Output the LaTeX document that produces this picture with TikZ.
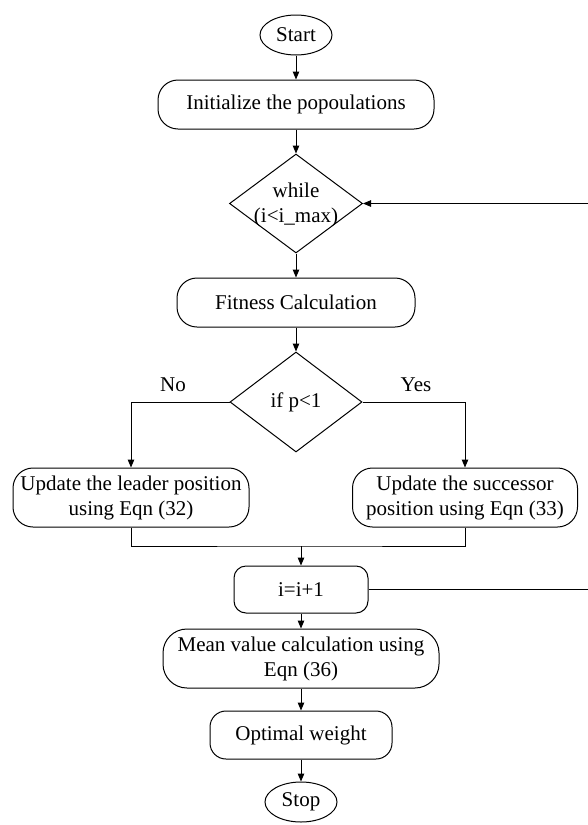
\documentclass[tikz,border=0pt]{standalone}
\usepackage{fontspec}
\setmainfont{Liberation Serif}
\usetikzlibrary{shapes.geometric,arrows.meta}
\begin{document}
\begin{tikzpicture}[x=1pt,y=-1pt,
  every node/.style={font=\fontsize{21}{25}\selectfont, inner sep=0pt, align=center},
  line/.style={line width=1pt, draw=black},
  arr/.style={line, -{Triangle[length=8pt,width=6.5pt]}},
  oval/.style={ellipse, draw, line width=1pt},
  rbox/.style={rectangle, draw, line width=1pt},
  dia/.style={diamond, draw, line width=1pt},
  lbl/.style={}
]
\useasboundingbox (0,0) rectangle (587,825);
\fill[white] (0,0) rectangle (587,825);

\node[oval, minimum width=72pt, minimum height=40pt] (start) at (296,35) {Start};
\node[rbox, rounded corners=20pt, minimum width=276pt, minimum height=49pt] (init) at (296,104.5) {Initialize the popoulations};
\node[dia, minimum width=133pt, minimum height=99pt] (while) at (296,203.5) {};
\node (whiletxt) at (296,205) {while\\(i<i\_max)};
\node[rbox, rounded corners=20pt, minimum width=238pt, minimum height=49pt] (fit) at (296,302.5) {Fitness Calculation};
\node[dia, minimum width=132pt, minimum height=100pt] (ifp) at (296,402) {};
\node (ifptxt) at (296,402) {if p<1};
\node[lbl] (no) at (173,385) {No};
\node[lbl] (yes) at (416,385) {Yes};
\node[rbox, rounded corners=20pt, minimum width=236pt, minimum height=59pt] (leader) at (131,497.5) {Update the leader position\\using Eqn (32)};
\node[rbox, rounded corners=20pt, minimum width=225pt, minimum height=59pt] (succ) at (465,497.5) {Update the successor\\position using Eqn (33)};
\coordinate (m) at (301,546);
\node[rbox, rounded corners=12pt, minimum width=134pt, minimum height=47pt] (inc) at (301,589.5) {i=i+1};
\node[rbox, rounded corners=24pt, minimum width=276pt, minimum height=59pt] (mean) at (301,658.5) {Mean value calculation using\\Eqn (36)};
\node[rbox, rounded corners=16pt, minimum width=182pt, minimum height=48pt] (opt) at (301,735) {Optimal weight};
\node[oval, minimum width=72pt, minimum height=40pt] (stop) at (301,802) {Stop};
\coordinate (r1) at (592,589.5);
\coordinate (r2) at (592,203.5);

\draw[arr] (start) -- (init);
\draw[arr] (init) -- (while);
\draw[arr] (while) -- (fit);
\draw[arr] (fit) -- (ifp);
\draw[arr] (ifp.west) -| (leader.north);
\draw[arr] (ifp.east) -| (succ.north);
\draw[line] (leader.south) |- (m) -| (succ.south);
\draw[arr] (m) -- (inc.north);
\draw[arr] (inc.east) -- (r1) -- (r2) -- (while.east);
\draw[arr] (inc) -- (mean);
\draw[arr] (mean) -- (opt);
\draw[arr] (opt) -- (stop);
\end{tikzpicture}
\end{document}
